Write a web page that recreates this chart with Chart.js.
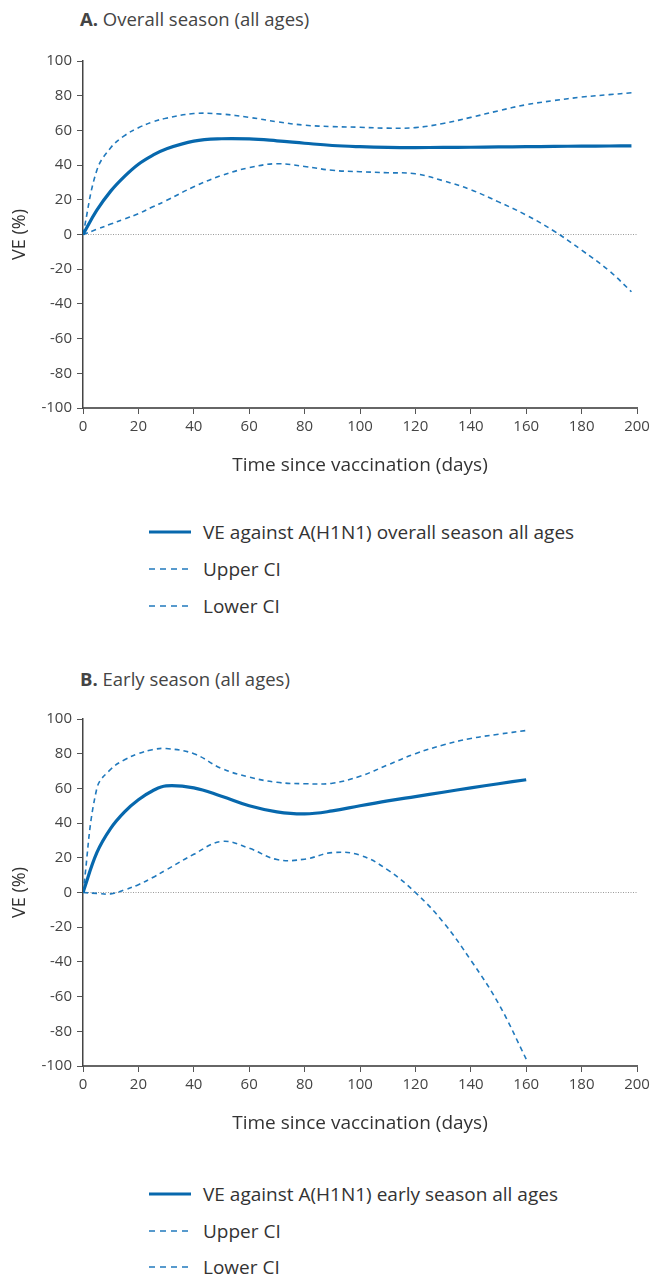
<!DOCTYPE html>
<html>
<head>
<meta charset="utf-8">
<script src="https://cdn.jsdelivr.net/npm/chart.js@4.4.1/dist/chart.umd.min.js"></script>
<style>
  body { margin: 0; background: #fff; font-family: 'Open Sans', sans-serif; }
  #page { position: relative; width: 654px; height: 1275px; overflow: hidden; }
  .title { position: absolute; left: 80px; font-size: 18.5px; color: #444; line-height: 22px; white-space: nowrap; }
  .title b { font-weight: 700; }
  .box { position: absolute; left: 0; width: 654px; height: 437px; }
  .row { position: absolute; left: 149px; height: 26px; display: flex; align-items: center; font-size: 19px; color: #333; white-space: nowrap; }
  .row svg { width: 42px; height: 8px; margin-right: 12px; }
</style>
</head>
<body>
<div id="page">
  <div class="title" style="top:8px"><b>A.</b> Overall season (all ages)</div>
  <div class="box" style="top:40px"><canvas id="chartA"></canvas></div>
  <div id="legendA"></div>

  <div class="title" style="top:668px"><b>B.</b> Early season (all ages)</div>
  <div class="box" style="top:698px"><canvas id="chartB"></canvas></div>
  <div id="legendB"></div>
</div>
<script>
// Panel A: overall season
const daysA = [0, 5, 10, 15, 20, 25, 30, 40, 50, 60, 70, 80, 90, 100, 110, 120, 130, 140, 150, 160, 170, 180, 190, 198];
const veA = [0, 14, 25, 33.5, 40.5, 45.5, 49.3, 53.8, 55.2, 55.1, 54, 52.6, 51.3, 50.6, 50.2, 50.1, 50.2, 50.3, 50.5, 50.6, 50.8, 50.9, 51, 51.1];
const upperA = [0, 37, 50, 57, 61.5, 64.8, 67, 69.7, 69.4, 67.5, 65, 63, 62.2, 61.8, 61.3, 61.6, 64, 67.5, 71.3, 74.8, 77.2, 79.2, 80.6, 81.7];
const lowerA = [0, 3, 6, 9, 12, 15.8, 19.5, 27.5, 34, 38.5, 40.8, 39.2, 37, 36.2, 35.6, 35, 31, 25.8, 18.8, 11.2, 2, -9, -21, -33];

// Panel B: early season
const daysB = [0, 5, 10, 15, 20, 25, 30, 40, 50, 60, 70, 80, 90, 100, 110, 120, 130, 140, 150, 160];
const veB = [0, 23, 37, 46.5, 53.5, 58.5, 61.5, 60.3, 55.5, 50, 46.5, 45.3, 47, 50, 52.8, 55.3, 57.8, 60.3, 62.7, 65];
const upperB = [0, 60, 71, 76.5, 80, 82.3, 83, 80, 71.5, 66.5, 63.5, 62.7, 63, 67, 73.5, 80, 85, 88.8, 91.2, 93.4];
const lowerB = [0, -0.5, -0.8, 1.5, 4.5, 8.5, 13, 22, 29.4, 25.5, 19, 19.2, 23, 21.5, 13, 0, -17, -39, -64, -96];

// Axis ticks and reference line
const xTickValues = [0, 20, 40, 60, 80, 100, 120, 140, 160, 180, 200];
const yTickValues = [-100, -80, -60, -40, -20, 0, 20, 40, 60, 80, 100];
const zeroLineX = [0, 200];

const legendA = ['VE against A(H1N1) overall season all ages', 'Upper CI', 'Lower CI'];
const legendB = ['VE against A(H1N1) early season all ages', 'Upper CI', 'Lower CI'];

const mainColor = '#0768ad';
const ciColor = '#2079bd';

Chart.defaults.font.family = "'Open Sans', sans-serif";

function pts(xs, ys) {
  return xs.map((x, i) => ({ x: x, y: ys[i] }));
}

function makeChart(id, days, ve, upper, lower, names) {
  const ctx = document.getElementById(id).getContext('2d');
  const smooth = { pointRadius: 0, tension: 0.4 };
  return new Chart(ctx, {
    type: 'line',
    data: {
      datasets: [
        Object.assign({ label: names[0], data: pts(days, ve), borderColor: mainColor, borderWidth: 3.2, order: 1 }, smooth),
        Object.assign({ label: names[1], data: pts(days, upper), borderColor: ciColor, borderWidth: 1.6, borderDash: [5, 4], order: 2 }, smooth),
        Object.assign({ label: names[2], data: pts(days, lower), borderColor: ciColor, borderWidth: 1.6, borderDash: [5, 4], order: 3 }, smooth),
        { label: 'zero', data: zeroLineX.map(x => ({ x: x, y: 0 })), borderColor: '#9a9a9a', borderWidth: 1, borderDash: [1, 1.5], pointRadius: 0, order: 10 }
      ]
    },
    options: {
      responsive: true,
      maintainAspectRatio: false,
      animation: false,
      layout: { padding: { top: 21, right: 17, left: 0, bottom: 0 } },
      plugins: { legend: { display: false }, tooltip: { enabled: false } },
      scales: {
        x: {
          type: 'linear', min: 0, max: 200,
          afterBuildTicks: s => { s.ticks = xTickValues.map(v => ({ value: v })); },
          afterFit: s => { s.height = 69; },
          ticks: { font: { size: 15 }, color: '#444', padding: 4, maxRotation: 0 },
          grid: { drawOnChartArea: false, tickLength: 6, tickColor: '#555', tickWidth: 1 },
          border: { color: '#666', width: 2 },
          title: { display: true, text: 'Time since vaccination (days)', font: { size: 19 }, color: '#333', padding: { top: 0, bottom: 0 } }
        },
        y: {
          type: 'linear', min: -100, max: 100,
          afterBuildTicks: s => { s.ticks = yTickValues.map(v => ({ value: v })); },
          afterFit: s => { s.width = 83; },
          ticks: { font: { size: 15 }, color: '#444', padding: 5 },
          grid: { drawOnChartArea: false, tickLength: 6, tickColor: '#555', tickWidth: 1 },
          border: { color: '#444', width: 1.5 },
          title: { display: true, text: 'VE (%)', font: { size: 18 }, color: '#333', padding: { top: 9, bottom: 0 } }
        }
      }
    }
  });
}

function makeLegend(id, names, centers) {
  const holder = document.getElementById(id);
  names.forEach((name, i) => {
    const row = document.createElement('div');
    row.className = 'row';
    row.style.top = (centers[i] - 13) + 'px';
    const dash = i === 0 ? '' : ' stroke-dasharray="6 5"';
    const w = i === 0 ? 3.2 : 1.6;
    const col = i === 0 ? mainColor : ciColor;
    row.innerHTML = '<svg viewBox="0 0 42 8"><line x1="0" y1="4" x2="42" y2="4" stroke="' + col + '" stroke-width="' + w + '"' + dash + '/></svg>';
    const span = document.createElement('span');
    span.textContent = name;
    row.appendChild(span);
    holder.appendChild(row);
  });
}

makeChart('chartA', daysA, veA, upperA, lowerA, legendA);
makeChart('chartB', daysB, veB, upperB, lowerB, legendB);
makeLegend('legendA', legendA, [532, 569, 606]);
makeLegend('legendB', legendB, [1194, 1231, 1267]);
</script>
</body>
</html>
